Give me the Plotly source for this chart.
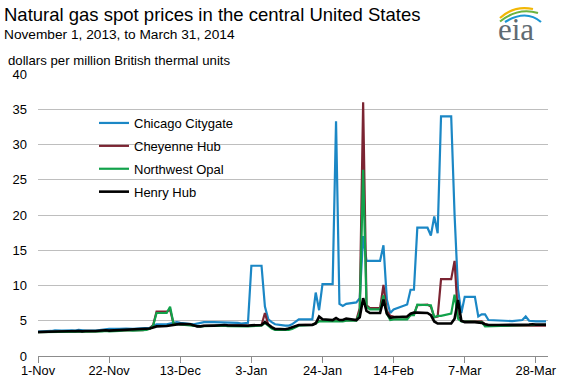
import pandas as pd
import plotly.graph_objects as go

# ---- data (trading days, Nov 1 2013 - Mar 31 2014) ----
holidays = ["2013-11-28", "2013-12-25", "2014-01-01", "2014-01-20", "2014-02-17"]
dates = pd.bdate_range("2013-11-01", "2014-03-31", freq="C", holidays=holidays)

chicago = [
    # Nov
    3.45, 3.5, 3.55, 3.65, 3.6, 3.6, 3.65, 3.6, 3.7, 3.65, 3.6, 3.6, 3.65, 3.7, 3.8, 3.85, 3.85, 3.9, 3.9, 3.85,
    # Dec
    3.9, 3.95, 4.0, 4.3, 4.5, 4.5, 4.6, 4.8, 4.8, 4.7, 4.6, 4.5, 4.6, 4.7, 4.8, 4.8, 4.8, 4.75, 4.7, 4.7, 4.6,
    # Jan
    4.7, 12.8, 12.8, 7.0, 5.2, 4.8, 4.5, 4.3, 4.3, 4.5, 4.8, 5.2, 5.2, 9.0, 6.5, 10.2, 10.2, 33.3, 7.4, 7.1, 7.4,
    # Feb
    7.6, 8.2, 17.0, 13.5, 13.5, 13.5, 15.7, 8.0, 6.1, 6.6, 7.3, 9.4, 9.4, 18.2, 18.2, 17.1, 19.8, 17.4, 34.0,
    # Mar
    34.0, 20.0, 9.5, 6.1, 8.4, 8.4, 5.6, 5.9, 5.9, 5.1, 5.0, 5.0, 5.0, 5.0, 4.95, 5.1, 5.6, 5.0, 4.9, 4.9, 4.9,
]
cheyenne = [
    3.4, 3.45, 3.45, 3.5, 3.45, 3.45, 3.5, 3.45, 3.55, 3.5, 3.45, 3.5, 3.55, 3.55, 3.6, 3.55, 3.6, 3.65, 3.7, 3.65,
    3.65, 3.75, 3.9, 4.4, 6.3, 6.3, 6.6, 4.6, 4.5, 4.5, 4.4, 4.3, 4.25, 4.25, 4.3, 4.35, 4.35, 4.35, 4.3, 4.3, 4.25,
    4.25, 4.3, 4.4, 6.1, 4.4, 4.0, 3.8, 3.75, 3.8, 3.95, 4.15, 4.4, 4.45, 4.7, 5.0, 5.0, 5.0, 5.0, 5.0, 5.05, 5.1,
    5.1, 6.8, 36.0, 7.2, 6.8, 6.8, 10.1, 6.4, 5.7, 5.6, 5.4, 5.8, 5.9, 7.2, 7.3, 7.0, 5.5, 5.6, 10.9,
    10.9, 13.5, 5.6, 5.0, 4.9, 4.9, 4.9, 4.9, 4.5, 4.4, 4.3, 4.3, 4.3, 4.3, 4.3, 4.3, 4.3, 4.3, 4.3, 4.3, 4.3,
]
nw_opal = [
    3.4, 3.4, 3.45, 3.5, 3.4, 3.4, 3.5, 3.45, 3.5, 3.45, 3.4, 3.45, 3.5, 3.5, 3.55, 3.5, 3.55, 3.6, 3.65, 3.6,
    3.6, 3.7, 3.85, 4.3, 6.1, 6.1, 7.0, 4.6, 4.5, 4.45, 4.35, 4.25, 4.2, 4.2, 4.25, 4.3, 4.3, 4.3, 4.25, 4.2, 4.2,
    4.2, 4.25, 4.3, 4.7, 4.3, 3.9, 3.7, 3.65, 3.7, 3.85, 4.05, 4.3, 4.4, 4.6, 4.9, 4.9, 4.9, 4.9, 4.85, 4.9, 5.0,
    5.0, 6.2, 26.4, 7.0, 6.6, 6.6, 8.6, 6.0, 5.1, 5.2, 5.2, 5.8, 5.8, 7.3, 7.3, 7.2, 5.5, 5.7, 5.7,
    6.0, 8.7, 5.3, 4.9, 4.9, 4.9, 4.9, 4.8, 4.2, 4.2, 4.2, 4.25, 4.3, 4.3, 4.35, 4.4, 4.4, 4.4, 4.4, 4.4, 4.4,
]
henry = [
    3.4, 3.45, 3.45, 3.5, 3.45, 3.5, 3.55, 3.5, 3.55, 3.5, 3.55, 3.55, 3.6, 3.6, 3.65, 3.6, 3.65, 3.7, 3.75, 3.75,
    3.8, 3.85, 3.9, 4.05, 4.2, 4.25, 4.3, 4.35, 4.45, 4.55, 4.5, 4.3, 4.2, 4.2, 4.3, 4.3, 4.35, 4.4, 4.35, 4.3, 4.3,
    4.3, 4.35, 4.4, 4.8, 4.4, 4.1, 3.85, 3.8, 3.9, 4.05, 4.2, 4.4, 4.4, 4.6, 5.6, 5.2, 5.1, 5.4, 5.1, 5.1, 5.3,
    5.1, 5.5, 8.2, 6.4, 6.1, 6.1, 8.0, 6.0, 5.4, 5.5, 5.6, 6.0, 6.15, 6.15, 6.1, 5.8, 4.9, 4.6, 4.6,
    4.6, 5.3, 7.95, 5.0, 4.8, 4.8, 4.8, 4.7, 4.5, 4.4, 4.4, 4.4, 4.35, 4.35, 4.4, 4.4, 4.45, 4.45, 4.5, 4.45, 4.45,
]

series_names = ["Chicago Citygate", "Cheyenne Hub", "Northwest Opal", "Henry Hub"]
series_values = [chicago, cheyenne, nw_opal, henry]
series_colors = ["#1B87C5", "#7B2432", "#12A24B", "#000000"]
series_widths = [2.2, 2.2, 2.2, 2.6]

for v in series_values:
    assert len(v) == len(dates), (len(v), len(dates))

# ---- figure ----
W, H = 562, 380
ML, MR, MT, MB = 38, 14, 74, 24
PW, PH = W - ML - MR, H - MT - MB


def px_x(px):
    return (px - ML) / PW


def px_y(py):
    return (H - MB - py) / PH


fig = go.Figure()
for name, vals, col, lw in zip(series_names, series_values, series_colors, series_widths):
    fig.add_trace(go.Scatter(
        x=dates, y=vals, mode="lines", name=name, legendgroup=name,
        line=dict(color=col, width=lw), hoverinfo="skip",
    ))

FONT = "Liberation Sans, Arial, sans-serif"

fig.update_layout(
    width=W, height=H,
    margin=dict(l=ML, r=MR, t=MT, b=MB, pad=0, autoexpand=False),
    paper_bgcolor="white", plot_bgcolor="white",
    font=dict(family=FONT, size=13, color="#000000"),
    showlegend=True,
    hovermode=False,
    legend=dict(
        x=px_x(94), y=px_y(108), xanchor="left", yanchor="top",
        bgcolor="rgba(0,0,0,0)", borderwidth=0,
        font=dict(family=FONT, size=13, color="#000000"),
        tracegroupgap=3, itemwidth=30,
    ),
    xaxis=dict(
        type="date", automargin=False,
        range=["2013-11-01", "2014-03-31 14:00"],
        tick0="2013-11-01", dtick=21 * 86400000,
        tickformat="%-d-%b",
        showgrid=False, zeroline=False,
        showline=True, linecolor="#8C8C8C", linewidth=1,
        ticks="outside", ticklen=6, tickcolor="#8C8C8C", tickwidth=1,
        ticklabelstandoff=-3,
        tickfont=dict(family=FONT, size=12.8, color="#000000"),
    ),
    yaxis=dict(
        range=[0, 40], dtick=5, tick0=0, automargin=False,
        showgrid=True, gridcolor="#BEBEBE", gridwidth=1,
        zeroline=False, showline=False,
        ticks="", ticklabelstandoff=10,
        tickfont=dict(family=FONT, size=13, color="#000000"),
    ),
    annotations=[
        dict(text="Natural gas spot prices in the central United States",
             xref="paper", yref="paper", x=px_x(2), y=px_y(14.4),
             xanchor="left", yanchor="middle", showarrow=False,
             font=dict(family=FONT, size=18.5, color="#000000")),
        dict(text="November 1, 2013, to March 31, 2014",
             xref="paper", yref="paper", x=px_x(2), y=px_y(34.6),
             xanchor="left", yanchor="middle", showarrow=False,
             font=dict(family=FONT, size=13.7, color="#000000")),
        dict(text="dollars per million British thermal units",
             xref="paper", yref="paper", x=px_x(6), y=px_y(60),
             xanchor="left", yanchor="middle", showarrow=False,
             font=dict(family=FONT, size=13.2, color="#000000")),
        dict(text="eia",
             xref="paper", yref="paper", x=px_x(516), y=px_y(29),
             xanchor="center", yanchor="middle", showarrow=False,
             font=dict(family="Liberation Serif, serif", size=31, color="#5F6B73")),
    ],
)


def arc(p0, c, p1, color):
    return dict(
        type="path", xref="paper", yref="paper",
        path=f"M {px_x(p0[0])},{px_y(p0[1])} Q {px_x(c[0])},{px_y(c[1])} {px_x(p1[0])},{px_y(p1[1])}",
        line=dict(color=color, width=2.2),
    )


fig.update_layout(shapes=[
    arc((500, 18), (514, 5), (533, 9), "#F2B705"),
    arc((500, 21.5), (518, 7), (538, 13), "#6CB33F"),
    arc((505, 22), (526, 9), (541, 22), "#1B96D3"),
])

# remove the browser's default 8px page margin so the figure sits at (0, 0)
fig.write_html(
    "out.html",
    config={"displayModeBar": False, "staticPlot": True},
    post_script="document.body.style.margin='0';",
)
